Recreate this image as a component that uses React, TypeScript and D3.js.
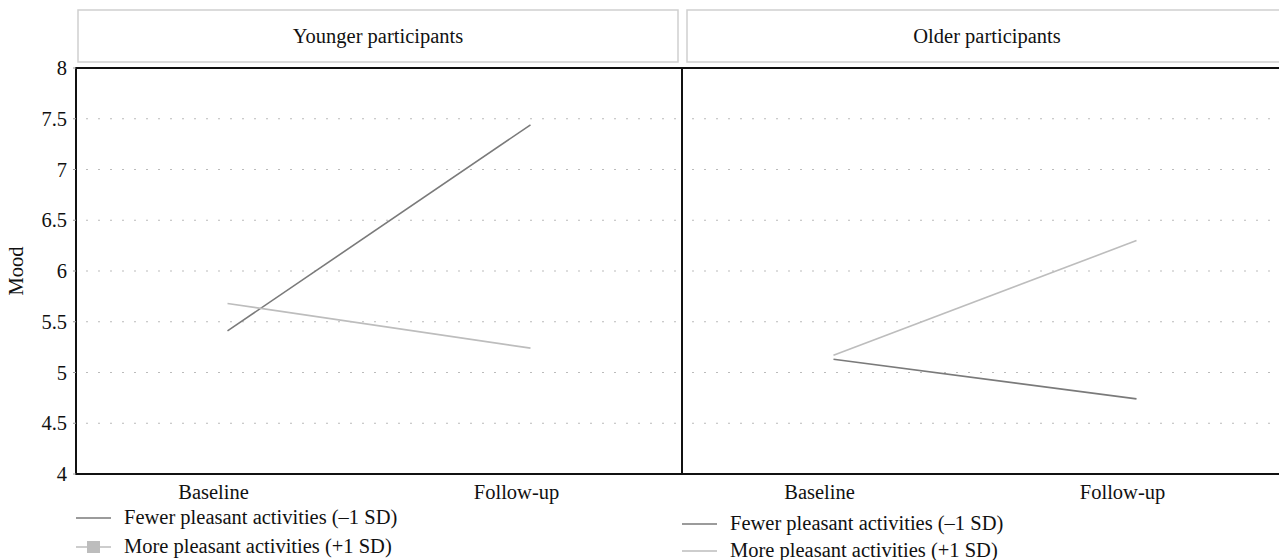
import * as d3 from "d3";

const conditions = ["Baseline", "Follow-up"];
const panelTitles = ["Younger participants", "Older participants"];
const seriesNames = ["Fewer pleasant activities (–1 SD)", "More pleasant activities (+1 SD)"];
const youngerFewer = [5.41, 7.44];
const youngerMore = [5.68, 5.24];
const olderFewer = [5.13, 4.74];
const olderMore = [5.17, 6.3];
const yTicks = [4, 4.5, 5, 5.5, 6, 6.5, 7, 7.5, 8];

const W = 1279;
const H = 560;
const top = 68;
const bottom = 474;
const panelW = 606;
const panelX = [76, 682];
const darkCol = "#7a7a7a";
const lightCol = "#bdbdbd";
const txt = { fontFamily: "Liberation Serif, Times New Roman, serif", fontSize: 20.5, fill: "#111" };

const y = d3.scaleLinear().domain([4, 8]).range([bottom, top]);

const Panel = ({ x0, title, fewer, more, legendY, marker }: any) => {
  const x = d3.scalePoint<string>().domain(conditions).range([x0, x0 + panelW]).padding(0.5);
  const line = d3
    .line<number>()
    .x((_, i) => x(conditions[i]) as number)
    .y((d) => y(d));
  const first = x0 === panelX[0];
  return (
    <g>
      <rect x={x0 + (first ? 2 : 5)} y={10} width={panelW - 6} height={52}
        fill="#fff" stroke="#cfcfcf" strokeWidth={1.5} />
      <text x={x0 + (first ? 2 : 5) + (panelW - 6) / 2} y={43} textAnchor="middle" style={txt}>{title}</text>
      {yTicks.slice(1, -1).map((t) => (
        <line key={t} x1={x0 + 10} x2={x0 + panelW} y1={y(t)} y2={y(t)}
          stroke="#bbb" strokeWidth={1.2} strokeDasharray="2,10" />
      ))}
      <path d={line(fewer) as string} fill="none" stroke={darkCol} strokeWidth={1.6} />
      <path d={line(more) as string} fill="none" stroke={lightCol} strokeWidth={1.6} />
      <rect x={x0} y={top} width={panelW} height={bottom - top} fill="none" stroke="#111" strokeWidth={2} />
      {conditions.map((c) => (
        <text key={c} x={(x(c) as number) - 14} y={499} textAnchor="middle" style={txt}>{c}</text>
      ))}
      {seriesNames.map((s, i) => (
        <g key={s} transform={`translate(${x0},${legendY[i]})`}>
          <line x1={0} x2={35} y1={0} y2={0} stroke={i === 0 ? darkCol : lightCol} strokeWidth={1.6} />
          {marker && i === 1 && <rect x={11} y={-6} width={13} height={12} fill={lightCol} />}
          <text x={48} y={6} style={txt}>{s}</text>
        </g>
      ))}
    </g>
  );
};

export default function App() {
  return (
    <svg width={W} height={H} style={{ position: "absolute", left: 0, top: 0, background: "#fff" }}>
      <rect width={W} height={H} fill="#fff" />
      <Panel x0={panelX[0]} title={panelTitles[0]} fewer={youngerFewer} more={youngerMore}
        legendY={[518, 547]} marker={true} />
      <Panel x0={panelX[1]} title={panelTitles[1]} fewer={olderFewer} more={olderMore}
        legendY={[524, 551]} marker={false} />
      {yTicks.map((t) => (
        <g key={t}>
          <line x1={panelX[0] - 3} x2={panelX[0]} y1={y(t)} y2={y(t)} stroke="#999" />
          <text x={67} y={y(t)} dy="0.35em" textAnchor="end" style={txt}>{t}</text>
        </g>
      ))}
      <text transform={`translate(23,${(top + bottom) / 2}) rotate(-90)`} textAnchor="middle" style={txt}>
        Mood
      </text>
    </svg>
  );
}
